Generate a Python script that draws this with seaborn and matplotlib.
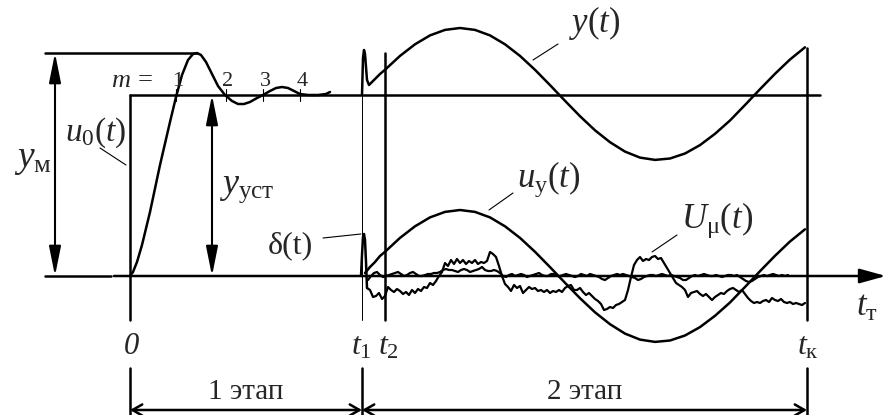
import numpy as np
import pandas as pd
import seaborn as sns
import matplotlib
matplotlib.use("Agg")
import matplotlib.pyplot as plt

# ---------------- data (picture units: x to the right, y downward) ----------------
# stage 1 transient response
step_x = [130, 133, 137, 142, 150, 160, 170, 176, 182, 188, 193, 197, 201, 206, 212, 218,
          225, 232, 238, 244, 250, 257, 263, 270, 276, 282, 288, 294, 300, 308, 318, 326, 330]
step_y = [276, 272, 262, 245, 212, 165, 122, 97, 75, 60, 54, 53, 55, 62, 74, 86,
          95, 101, 104, 104, 102, 98, 95, 91, 88, 87, 88, 91, 94, 95, 95, 94, 92]
m_ticks = [176, 226, 263, 300]
m_labels = ["1", "2", "3", "4"]

# stage 2: y(t)
yt_x = [362, 363, 364, 365, 367, 369, 372, 376, 380,
        385, 400, 415, 430, 445, 460, 475, 490, 505, 520, 535, 550, 565, 580, 595, 610,
        625, 640, 655, 670, 685, 700, 715, 730, 745, 760, 775, 790, 805]
yt_y = [95, 58, 50, 54, 80, 85, 82, 78, 74,
        69.8, 55.9, 44.3, 35.4, 29.9, 28, 29.9, 35.4, 44.3, 55.9, 69.8, 85.1, 100.8, 116.2,
        130.3, 142.2, 151.6, 157.6, 159.9, 158.5, 153.5, 145.1, 133.8, 120.5, 105, 89.2,
        73.8, 59.5, 47.3]
# stage 2: u_y(t)
uy_x = [365, 370, 375, 380,
        385, 400, 415, 430, 445, 460, 475, 490, 505, 520, 535, 550, 565, 580, 595, 610,
        625, 640, 655, 670, 685, 700, 715, 730, 745, 760, 775, 790, 805]
uy_y = [273, 267, 262, 256,
        251.8, 237.9, 226.3, 217.4, 211.9, 210, 211.9, 217.4, 226.3, 237.9, 251.8, 267.1,
        282.8, 298.2, 312.3, 324.2, 333.6, 339.6, 341.9, 340.5, 335.5, 327.1, 315.8, 302.5,
        287, 271.2, 255.8, 241.5, 229.3]
# delta(t) pulse
delta_x = [361, 362, 363, 364, 365, 366, 367]
delta_y = [276, 255, 237, 234, 240, 262, 288]
# U_mu(t) noisy signal (sampled every 3 px from x=367)
umu_y = [288, 290, 297, 296, 293, 299, 296, 287, 290, 292, 289, 291, 294, 292, 295, 290,
         293, 289, 291, 287, 288, 283, 285, 281, 276, 272, 263, 266, 260, 264, 259, 263,
         260, 264, 261, 263, 260, 264, 262, 263, 261, 252, 254, 257, 266, 276, 284, 287,
         291, 285, 288, 286, 293, 290, 287, 289, 288, 291, 290, 292, 290, 293, 291, 292,
         290, 292, 288, 286, 285, 290, 290, 288, 292, 295, 293, 296, 299, 301, 304, 310,
         309, 307, 308, 305, 304, 302, 300, 290, 277, 265, 260, 257, 261, 259, 260, 257,
         256, 259, 258, 263, 268, 273, 278, 283, 285, 287, 290, 297, 293, 292, 291, 294,
         296, 294, 297, 300, 297, 295, 293, 294, 291, 289, 288, 290, 292, 290, 294, 298,
         301, 303, 302, 303, 301, 300, 302, 298, 300, 301, 299, 302, 303, 302, 304, 303,
         304, 305, 303]
# small error signal near the axis (sampled every 3 px from x=368)
err_y = [280, 276, 273, 272, 275, 277, 276, 275, 274, 273, 272, 274, 276, 275, 273, 272,
         274, 276, 276, 275, 274, 274, 273, 273, 272, 270, 269, 270, 270, 271, 272, 270,
         269, 270, 272, 271, 270, 269, 267, 270, 271, 271, 270, 271, 273, 276, 277, 275,
         274, 276, 275, 274, 275, 277, 276, 275, 274, 273, 275, 276, 276, 274, 274, 276,
         276, 275, 274, 275, 276, 277, 276, 274, 275, 276, 274, 275, 276, 277, 279, 280,
         278, 276, 275, 274, 275, 274, 275, 276, 277, 278, 280, 279, 277, 276, 275, 275,
         276, 275, 274, 275, 276, 275, 276, 277, 278, 280, 280, 278, 276, 275, 276, 275,
         274, 275, 276, 276, 275, 276, 277, 276, 275, 275, 276, 275, 277, 279, 281, 282,
         281, 279, 277, 276, 275, 276, 275, 274, 275, 276, 275, 276, 275]
umu_x = np.arange(367, 367 + 3 * len(umu_y), 3)
err_x = np.arange(368, 368 + 3 * len(err_y), 3)

# ---------------- style ----------------
sns.set_theme(style="white")
plt.rcParams["font.family"] = ["Liberation Serif", "DejaVu Serif"]
plt.rcParams["mathtext.fontset"] = "custom"
plt.rcParams["mathtext.rm"] = "Liberation Serif"
plt.rcParams["mathtext.it"] = "Liberation Serif:italic"
plt.rcParams["mathtext.bf"] = "Liberation Serif:bold"

fig = plt.figure(figsize=(8.86, 4.15), dpi=100)
ax = fig.add_axes([0, 0, 1, 1])
ax.set_xlim(0, 886)
ax.set_ylim(415, 0)
ax.axis("off")

K = "black"
LW = 1.8


def curve(x, y, lw=LW):
    sns.lineplot(x=list(x), y=list(y), ax=ax, color=K, linewidth=lw, sort=False,
                 estimator=None, legend=False)


# structural lines
ax.plot([45, 197], [53, 53], color=K, lw=LW)          # y_m level
ax.plot([45, 111], [276, 276], color=K, lw=LW)        # left piece of base
ax.plot([130, 820], [95, 95], color=K, lw=LW)         # steady level
ax.plot([130, 130], [95, 320], color=K, lw=LW)        # t = 0
ax.plot([362, 362], [60, 320], color=K, lw=0.7)       # t1
ax.plot([385, 385], [53, 320], color=K, lw=LW)        # t2
ax.plot([807, 807], [48, 320], color=K, lw=LW)        # tk
for xm in [130, 362, 807]:
    ax.plot([xm, xm], [368, 415], color=K, lw=LW)
for xm in m_ticks:
    ax.plot([xm, xm], [89, 101], color=K, lw=0.8)

# time axis with arrow
ax.annotate("", xy=(886, 276), xytext=(114, 276),
            arrowprops=dict(arrowstyle="-|>,head_length=0.8,head_width=0.22",
                            color=K, lw=LW, mutation_scale=20, shrinkA=0, shrinkB=0))
# dimension arrows
for xa, y0, y1 in [(55, 53, 276), (212, 95, 276)]:
    ax.annotate("", xy=(xa, y0), xytext=(xa, y1),
                arrowprops=dict(arrowstyle="<|-|>,head_length=0.9,head_width=0.18",
                                color=K, lw=1.5, mutation_scale=20, shrinkA=0, shrinkB=0))
for x0, x1 in [(130, 362), (362, 807)]:
    ax.annotate("", xy=(x0, 410), xytext=(x1, 410),
                arrowprops=dict(arrowstyle="<->,head_length=0.35,head_width=0.2",
                                color=K, lw=LW, mutation_scale=20, shrinkA=0, shrinkB=0))

# curves
curve(step_x, step_y)
curve(yt_x, yt_y)
curve(uy_x, uy_y)
curve(delta_x, delta_y)
curve(umu_x, umu_y, lw=1.6)
curve(err_x, err_y, lw=1.6)

# leader lines
for (xa, ya), (xb, yb) in [((100, 148), (126, 165)), ((533, 60), (558, 44)),
                           ((489, 210), (513, 193)), ((652, 252), (677, 235)),
                           ((323, 238), (361, 234))]:
    ax.plot([xa, xb], [ya, yb], color=K, lw=0.8)

# labels
FS = 25
ax.text(14, 167, r"$y_{\mathrm{м}}$", fontsize=FS + 2, va="baseline")
ax.text(65, 141, r"$u_{0}(t)$", fontsize=FS - 1, va="baseline")
ax.text(219, 193, r"$y_{\mathrm{уст}}$", fontsize=FS + 1, va="baseline")
ax.text(268, 253, "δ(t)", fontsize=FS - 2, va="baseline")
ax.text(569, 32, r"$y(t)$", fontsize=FS, va="baseline")
ax.text(517, 187, r"$u_{\mathrm{у}}(t)$", fontsize=FS, va="baseline")
ax.text(681, 228, r"$U_{\mathrm{μ}}(t)$", fontsize=FS, va="baseline")
ax.text(856, 316, r"$t_{\mathrm{т}}$", fontsize=FS, va="baseline")

ax.text(111, 87, r"$m\,=$", fontsize=19, va="baseline")
for xm, lab in zip(m_ticks, m_labels):
    ax.text(xm + 2, 86, lab, fontsize=16, va="baseline", ha="center")

ax.text(131, 354, "0", fontsize=22, style="italic", va="baseline", ha="center")
ax.text(351, 354, r"$t_{1}$", fontsize=23, va="baseline")
ax.text(378, 354, r"$t_{2}$", fontsize=23, va="baseline")
ax.text(797, 354, r"$t_{\mathrm{к}}$", fontsize=23, va="baseline")

ax.text(246, 399, "1 этап", fontsize=21, va="baseline", ha="center")
ax.text(585, 399, "2 этап", fontsize=21, va="baseline", ha="center")

fig.savefig("out.png", dpi=100)
